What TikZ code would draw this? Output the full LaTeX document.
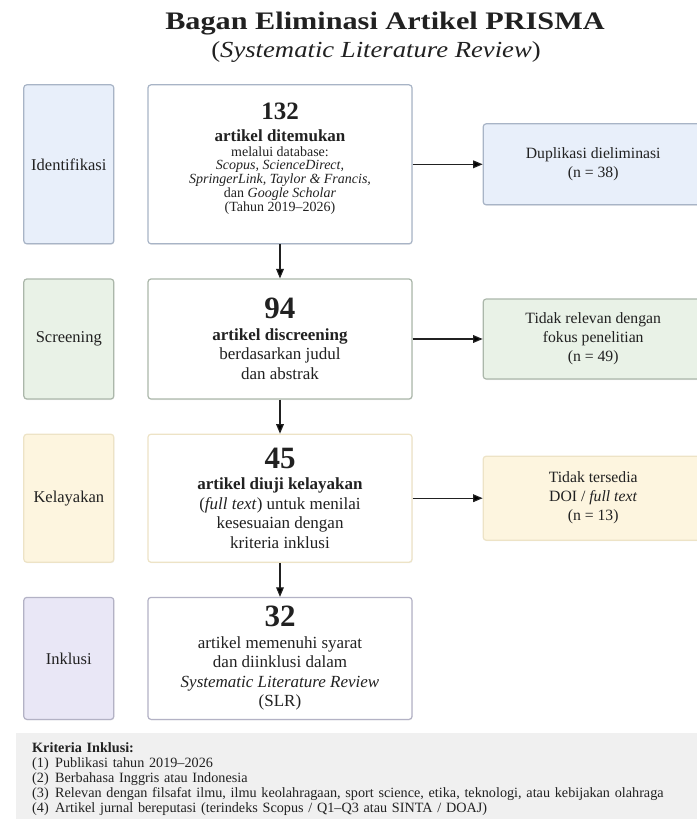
\documentclass[tikz,border=0pt]{standalone}
\usepackage{fontspec}
\setmainfont{Liberation Serif}
\newfontfamily\titlefont[FakeStretch=1.2]{Liberation Serif}
\newfontfamily\subtitlefont[FakeStretch=1.16]{Liberation Serif}
\usepackage{tikz}
\usetikzlibrary{shapes,shadows}
\usetikzlibrary{positioning,calc}
\usetikzlibrary{arrows}
\definecolor{ink}{rgb}{0.13,0.13,0.13}
\definecolor{blueI}{rgb}{0.9098039,0.9372549,0.9803922}
\definecolor{blueId}{rgb}{0.6588235,0.7058824,0.7764706}
\definecolor{greenS}{rgb}{0.9137255,0.9490196,0.9058824}
\definecolor{greenSd}{rgb}{0.6705882,0.7176471,0.6666667}
\definecolor{yellowK}{rgb}{0.9921569,0.9607843,0.8745098}
\definecolor{yellowKd}{rgb}{0.9294118,0.8901961,0.7764706}
\definecolor{purpleN}{rgb}{0.9137255,0.9058824,0.9647059}
\definecolor{purpleNd}{rgb}{0.7019608,0.6980392,0.7725490}
\definecolor{gray2}{rgb}{0.9411765,0.9411765,0.9411765}
\tikzset{box/.style={rectangle, rounded corners=3pt, line width=1.2pt, text=ink,
drop shadow={opacity=0.12, shadow xshift=0.6pt, shadow yshift=-1pt}},
stage/.style={box, minimum width=90pt, font=\fontsize{16.5}{19}\selectfont},
stageI/.style={stage, fill=blueI, draw=blueId},
stageS/.style={stage, fill=greenS, draw=greenSd},
stageK/.style={stage, fill=yellowK, draw=yellowKd},
stageN/.style={stage, fill=purpleN, draw=purpleNd},
mainnode/.style={box, fill=white, minimum width=264pt, align=center, inner sep=0pt,
font=\fontsize{17}{19.5}\selectfont},
exclnode/.style={box, minimum width=220pt, align=center, inner sep=0pt,
font=\fontsize{15.7}{19}\selectfont},
>={triangle 45}}

\begin{document}
\begin{tikzpicture}[x=1pt,y=-1pt]
  \useasboundingbox (0,0) rectangle (696,819);
  \node (title) [anchor=base, text=ink, font=\titlefont\fontsize{25.2}{26}\selectfont\bfseries] at (385,29.5) {Bagan Eliminasi Artikel PRISMA};
  \node (subtitle) [anchor=base, text=ink, font=\subtitlefont\fontsize{23}{24}\selectfont] at (376,57) {(\textit{Systematic Literature Review})};

  \matrix[row sep=34pt, column sep=33pt, inner sep=0pt, matrix anchor=north west] (all) at (23,84) {
    \node(I) [stageI, minimum height=159pt] {Identifikasi}; &
    \node(M1) [mainnode, draw=blueId, minimum height=159pt, font=\fontsize{14}{13.8}\selectfont] {{\fontsize{25}{25}\selectfont\bfseries 132}\\[8pt]
      {\fontsize{17}{17}\selectfont\bfseries artikel ditemukan}\\[0.5pt]
      melalui database:\\
      \textit{Scopus, ScienceDirect,}\\
      \textit{SpringerLink, Taylor \& Francis,}\\
      dan \textit{Google Scholar}\\
      (Tahun 2019–2026)\rule[-14pt]{0pt}{14pt}}; &[37pt]
    \node(X1) [exclnode, fill=blueI, draw=blueId, minimum height=81pt] {Duplikasi dieliminasi\\(n = 38)}; \\
    \node(S) [stageS, minimum height=120pt] {Screening}; &
    \node(M2) [mainnode, draw=greenSd, minimum height=120pt] {{\fontsize{31}{31}\selectfont\bfseries 94}\\[2pt]
      {\bfseries artikel discreening}\\
      berdasarkan judul\\
      dan abstrak}; &
    \node(X2) [exclnode, fill=greenS, draw=greenSd, minimum height=80pt] {Tidak relevan dengan\\fokus penelitian\\(n = 49)}; \\
    \node(K) [stageK, minimum height=128pt] {Kelayakan}; &
    \node(M3) [mainnode, draw=yellowKd, minimum height=128pt] {{\fontsize{31}{31}\selectfont\bfseries 45}\\[2pt]
      {\bfseries artikel diuji kelayakan}\\
      (\textit{full text}) untuk menilai\\
      kesesuaian dengan\\
      kriteria inklusi}; &
    \node(X3) [exclnode, fill=yellowK, draw=yellowKd, minimum height=84pt] {Tidak tersedia\\DOI / \textit{full text}\\(n = 13)}; \\
    \node(N) [stageN, minimum height=122pt] {Inklusi}; &
    \node(M4) [mainnode, draw=purpleNd, minimum height=122pt] {{\fontsize{31}{31}\selectfont\bfseries 32}\\[2pt]
      artikel memenuhi syarat\\
      dan diinklusi dalam\\
      \textit{Systematic Literature Review}\\
      (SLR)}; & \\
  };

  \node (crit) [anchor=north west, fill=gray2, text=ink, inner xsep=16pt, inner ysep=9pt,
    text width=668pt, align=left, font=\fontsize{14.2}{15}\selectfont] at (16,733) {{\bfseries Kriteria Inklusi:}\\
    \makebox[23pt][l]{(1)}Publikasi tahun 2019–2026\\
    \makebox[23pt][l]{(2)}Berbahasa Inggris atau Indonesia\\
    \makebox[23pt][l]{(3)}Relevan dengan filsafat ilmu, ilmu keolahragaan, sport science, etika, teknologi, atau kebijakan olahraga\\
    \makebox[23pt][l]{(4)}Artikel jurnal bereputasi (terindeks Scopus / Q1–Q3 atau SINTA / DOAJ)};

\draw[line width=1.2pt, draw=ink]
(M1)
   edge [->]
(M2);
\draw[line width=1.2pt, draw=ink]
(M2)
   edge [->]
(M3);
\draw[line width=1.2pt, draw=ink]
(M3)
   edge [->]
(M4);
\draw[line width=1.2pt, draw=ink]
(M1)
   edge [->]
(X1);
\draw[line width=1.2pt, draw=ink]
(M2)
   edge [->]
(X2);
\draw[line width=1.2pt, draw=ink]
(M3)
   edge [->]
(X3);
\end{tikzpicture}
\end{document}
